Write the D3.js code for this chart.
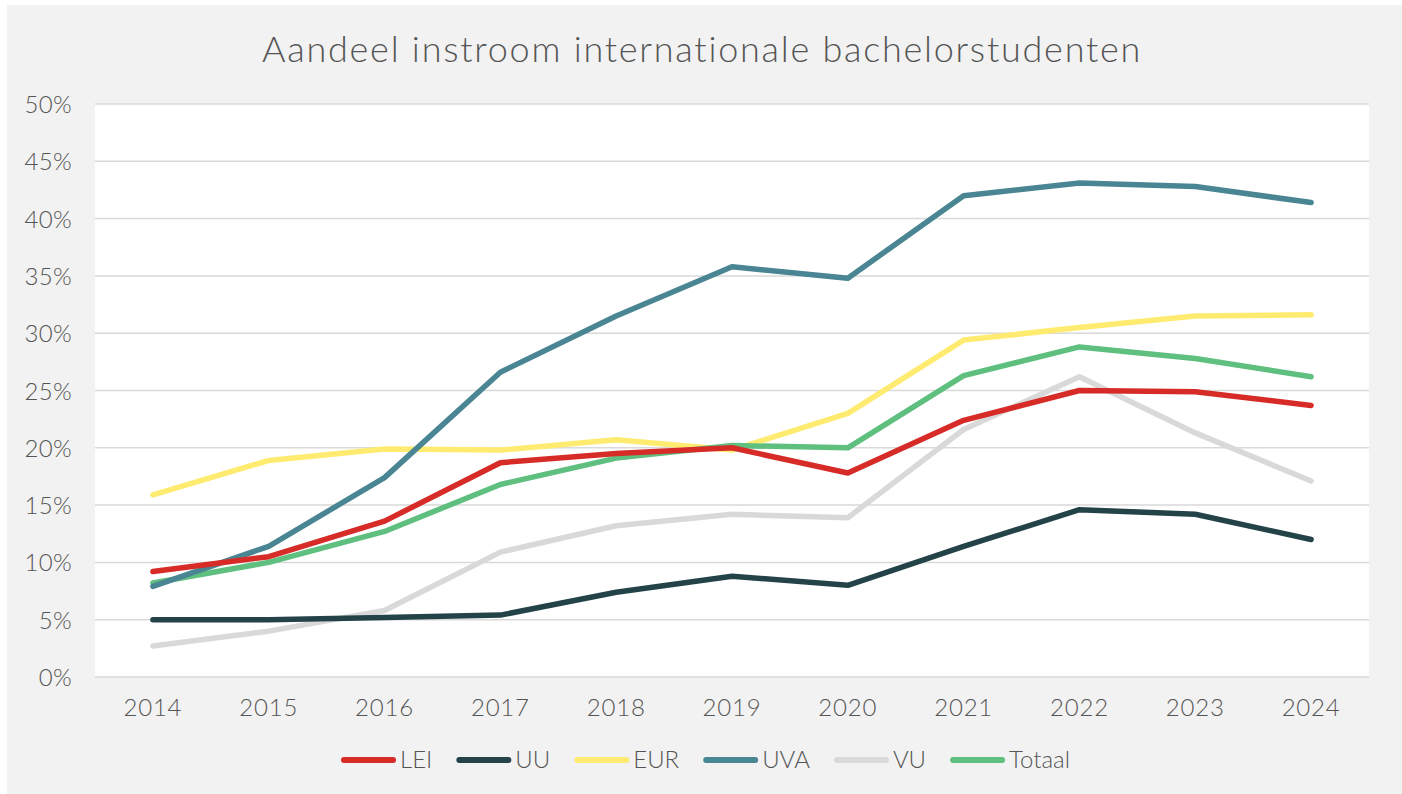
<!DOCTYPE html>
<html>
<head>
<meta charset="utf-8">
<script src="https://cdn.jsdelivr.net/npm/d3@7"></script>
<style>
  body { margin: 0; background: #fff; }
  svg { display: block; font-family: Lato, "Noto Sans", sans-serif; }
</style>
</head>
<body>
<script>
const width = 1402;
const height = 794;

// data
const years = [2014, 2015, 2016, 2017, 2018, 2019, 2020, 2021, 2022, 2023, 2024];
const LEI = [9.2, 10.5, 13.6, 18.7, 19.5, 20.0, 17.8, 22.4, 25.0, 24.9, 23.7];
const UU = [5.0, 5.0, 5.2, 5.4, 7.4, 8.8, 8.0, 11.4, 14.6, 14.2, 12.0];
const EUR = [15.9, 18.9, 19.9, 19.8, 20.7, 19.8, 23.0, 29.4, 30.5, 31.5, 31.6];
const UVA = [7.9, 11.4, 17.4, 26.6, 31.5, 35.8, 34.8, 42.0, 43.1, 42.8, 41.4];
const VU = [2.7, 4.0, 5.8, 10.9, 13.2, 14.2, 13.9, 21.6, 26.2, 21.3, 17.1];
const Totaal = [8.2, 10.0, 12.7, 16.8, 19.1, 20.2, 20.0, 26.3, 28.8, 27.8, 26.2];
const yTicks = [0, 5, 10, 15, 20, 25, 30, 35, 40, 45, 50];

const series = [
    {name: "LEI", values: LEI, color: "#d62b27"},
    {name: "UU", values: UU, color: "#234348"},
    {name: "EUR", values: EUR, color: "#ffeb70"},
    {name: "UVA", values: UVA, color: "#4a8593"},
    {name: "VU", values: VU, color: "#d9d9d9"},
    {name: "Totaal", values: Totaal, color: "#5fbf7f"}
];
// draw order: back to front
const drawOrder = ["VU", "EUR", "UU", "Totaal", "UVA", "LEI"];

const margin = {left: 95, right: 1369, top: 104, bottom: 677};

const svg = d3.select("body").append("svg")
    .attr("width", width)
    .attr("height", height);

svg.append("rect")
    .attr("x", 7).attr("y", 5)
    .attr("width", width - 7).attr("height", height - 5)
    .attr("fill", "#f2f2f2");

svg.append("rect")
    .attr("x", margin.left).attr("y", margin.top)
    .attr("width", margin.right - margin.left)
    .attr("height", margin.bottom - margin.top)
    .attr("fill", "#fff");

const x = d3.scalePoint()
    .domain(years)
    .range([margin.left, margin.right])
    .padding(0.5);

const y = d3.scaleLinear()
    .domain([0, 50])
    .range([margin.bottom, margin.top]);

// gridlines
svg.append("g")
    .selectAll("line")
    .data(yTicks)
    .enter()
    .append("line")
    .attr("x1", margin.left)
    .attr("x2", margin.right)
    .attr("y1", d => y(d))
    .attr("y2", d => y(d))
    .style("stroke", "#d9d9d9")
    .style("stroke-width", 1.5);

// y labels
svg.append("g")
    .selectAll("text")
    .data(yTicks)
    .enter()
    .append("text")
    .attr("x", 72)
    .attr("y", d => y(d) + 9)
    .style("text-anchor", "end")
    .style("font-size", "24px")
    .style("font-weight", 300)
    .style("letter-spacing", "0.3px")
    .style("fill", "#555")
    .text(d => d + "%");

// x labels
svg.append("g")
    .selectAll("text")
    .data(years)
    .enter()
    .append("text")
    .attr("x", d => x(d))
    .attr("y", 716)
    .style("text-anchor", "middle")
    .style("font-size", "24px")
    .style("font-weight", 300)
    .style("letter-spacing", "0.8px")
    .style("fill", "#555")
    .text(d => d);

const line = d3.line()
    .x((d, i) => x(years[i]))
    .y(d => y(d));

svg.append("g")
    .selectAll("path")
    .data(drawOrder.map(n => series.find(s => s.name === n)))
    .enter()
    .append("path")
    .attr("d", d => line(d.values))
    .style("fill", "none")
    .style("stroke", d => d.color)
    .style("stroke-width", 5.5)
    .style("stroke-linecap", "round")
    .style("stroke-linejoin", "round");

// title
svg.append("text")
    .attr("x", 702)
    .attr("y", 62)
    .style("text-anchor", "middle")
    .style("font-size", "36px")
    .style("font-weight", 300)
    .style("letter-spacing", "1.75px")
    .style("fill", "#555")
    .text("Aandeel instroom internationale bachelorstudenten");

// legend
const legend = svg.append("g");
let lx = 341;
series.forEach(s => {
    legend.append("line")
        .attr("x1", lx + 3).attr("x2", lx + 52)
        .attr("y1", 760).attr("y2", 760)
        .style("stroke", s.color)
        .style("stroke-width", 6)
        .style("stroke-linecap", "round");
    const t = legend.append("text")
        .attr("x", lx + 59)
        .attr("y", 768)
        .style("font-size", "24px")
        .style("font-weight", 300)
        .style("fill", "#555")
        .text(s.name);
    lx += 59 + t.node().getComputedTextLength() + 24;
});
</script>
</body>
</html>
